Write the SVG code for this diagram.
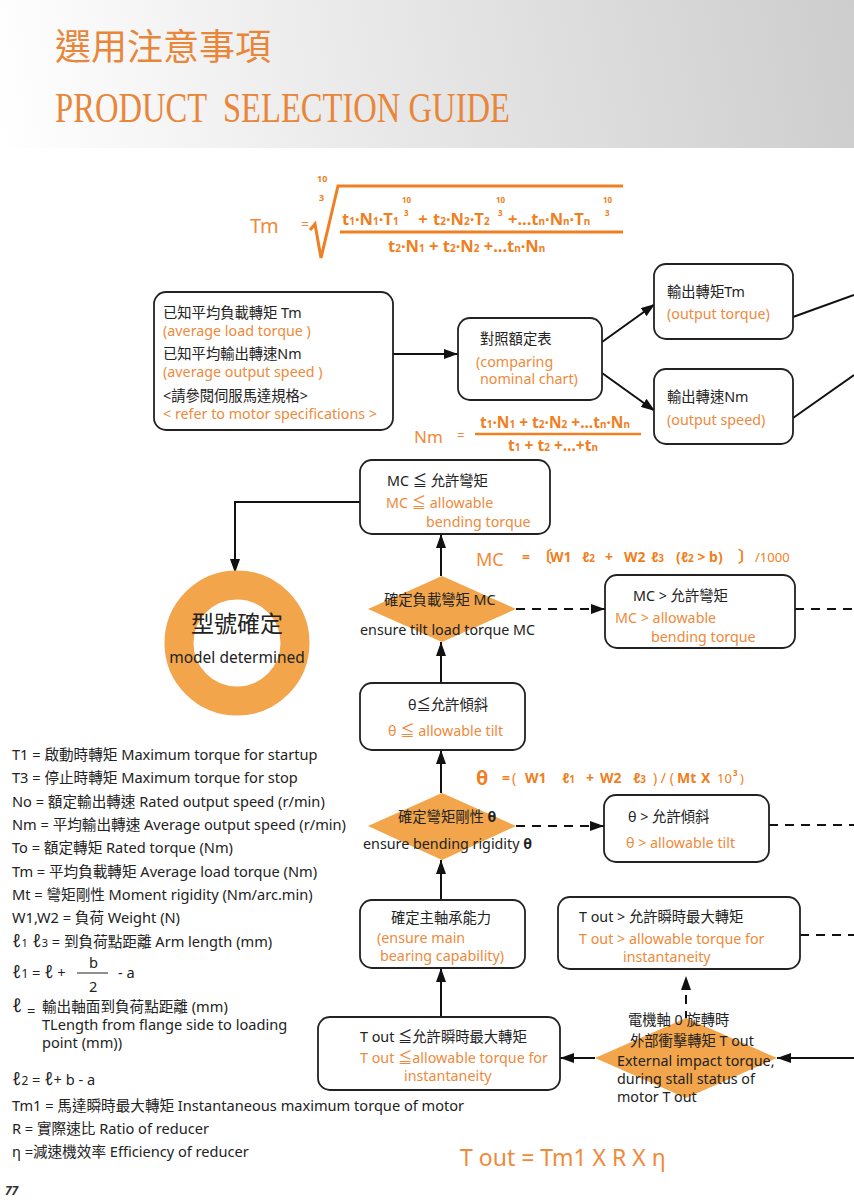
<svg xmlns="http://www.w3.org/2000/svg" width="854" height="1200" viewBox="0 0 854 1200">
<defs>
<linearGradient id="hdr" gradientUnits="userSpaceOnUse" x1="0" y1="148" x2="854" y2="0">
<stop offset="0" stop-color="#ffffff"/>
<stop offset="0.35" stop-color="#ededed"/>
<stop offset="1" stop-color="#cdcdcd"/>
</linearGradient>
<marker id="ah" viewBox="0 0 14 10" refX="14" refY="5" markerWidth="14" markerHeight="10" markerUnits="userSpaceOnUse" orient="auto"><path d="M0,0 L14,5 L0,10 z" fill="#111"/></marker>
<style>
.t{font-family:"Noto Sans","Noto Sans CJK TC",sans-serif;font-size:14.3px;fill:#222}
.lg{font-size:14.6px}
.o{fill:#EE8A3C}
.box{fill:#fff;stroke:#222;stroke-width:1.8}
.dia{fill:#F2A54A}
.c{fill:none;stroke:#111;stroke-width:2}
.d{fill:none;stroke:#111;stroke-width:2;stroke-dasharray:9 7}
.f{font-family:"Noto Sans","Noto Sans CJK TC",sans-serif;font-weight:bold;fill:#F07F22}
.fl{font-family:"Noto Sans",sans-serif;fill:#F08A3A}
</style>
</defs>

<!-- header -->
<rect x="0" y="0" width="854" height="148" fill="url(#hdr)"/>
<text x="55" y="60" font-family="Liberation Serif,'Noto Sans CJK TC',serif" font-size="36" fill="#E8873A">選用注意事項</text>
<text x="55" y="122" xml:space="preserve" font-family="Liberation Serif,serif" font-size="42" fill="#E8873A" textLength="455" lengthAdjust="spacingAndGlyphs">PRODUCT  SELECTION GUIDE</text>

<!-- top formula Tm -->
<g id="formula-tm">
<text class="fl" x="250" y="233" font-size="20">Tm</text>
<text class="fl" x="301" y="229" font-size="14">=</text>
<polyline points="310,230 315,224 321,258 338,186 623,186" fill="none" stroke="#F07F22" stroke-width="3"/>
<line x1="340" y1="232" x2="623" y2="232" stroke="#F07F22" stroke-width="3"/>
<text class="f" font-size="9"><tspan x="317" y="182">10</tspan><tspan x="319" y="201">3</tspan></text>
<text class="f" font-size="16.5" y="225"><tspan x="342">t</tspan><tspan font-size="10">1</tspan><tspan>·N</tspan><tspan font-size="10">1</tspan><tspan>·T</tspan><tspan font-size="10">1</tspan><tspan x="414"> + </tspan><tspan x="433">t</tspan><tspan font-size="10">2</tspan><tspan>·N</tspan><tspan font-size="10">2</tspan><tspan>·T</tspan><tspan font-size="10">2</tspan><tspan x="508">+...t</tspan><tspan font-size="10">n</tspan><tspan>·N</tspan><tspan font-size="10">n</tspan><tspan>·T</tspan><tspan font-size="10">n</tspan></text>
<text class="f" font-size="8" y="203"><tspan x="402">10</tspan><tspan x="496">10</tspan><tspan x="603">10</tspan></text>
<text class="f" font-size="8" y="216"><tspan x="404">3</tspan><tspan x="498">3</tspan><tspan x="605">3</tspan></text>
<text class="f" font-size="16.5" y="252"><tspan x="388">t</tspan><tspan font-size="10">2</tspan><tspan>·N</tspan><tspan font-size="10">1</tspan><tspan> + t</tspan><tspan font-size="10">2</tspan><tspan>·N</tspan><tspan font-size="10">2</tspan><tspan> +...t</tspan><tspan font-size="10">n</tspan><tspan>·N</tspan><tspan font-size="10">n</tspan></text>
</g>

<!-- Nm formula -->
<g id="formula-nm">
<text class="fl" x="414" y="443" font-size="17">Nm</text>
<text class="fl" x="457" y="440" font-size="13">=</text>
<text class="f" font-size="15.5" y="428"><tspan x="480">t</tspan><tspan font-size="10">1</tspan><tspan>·N</tspan><tspan font-size="10">1</tspan><tspan> + t</tspan><tspan font-size="10">2</tspan><tspan>·N</tspan><tspan font-size="10">2</tspan><tspan> +...t</tspan><tspan font-size="10">n</tspan><tspan>·N</tspan><tspan font-size="10">n</tspan></text>
<line x1="475" y1="434" x2="641" y2="434" stroke="#F07F22" stroke-width="2.5"/>
<text class="f" font-size="15.5" y="451"><tspan x="508">t</tspan><tspan font-size="10">1</tspan><tspan> + t</tspan><tspan font-size="10">2</tspan><tspan> +...+t</tspan><tspan font-size="10">n</tspan></text>
</g>

<!-- MC formula -->
<g id="formula-mc">
<text class="fl" x="476" y="566" font-size="18">MC</text>
<text class="f" font-size="14" y="562"><tspan x="522">=</tspan><tspan x="536" font-size="16">〔</tspan><tspan x="550">W1</tspan><tspan x="582">ℓ</tspan><tspan font-size="10">2</tspan><tspan x="605">+</tspan><tspan x="624">W2</tspan><tspan x="651">ℓ</tspan><tspan font-size="10">3</tspan><tspan x="676">(ℓ</tspan><tspan font-size="10">2</tspan><tspan> &gt; b)</tspan><tspan x="738" font-size="16">〕</tspan><tspan x="755" font-weight="normal" font-size="13">/1000</tspan></text>
</g>

<!-- theta formula -->
<g id="formula-theta">
<text class="f" x="476" y="785" font-size="20">θ</text>
<text class="f" font-size="14" y="783"><tspan x="502">=</tspan><tspan x="512" font-weight="normal">(</tspan><tspan x="525">W1</tspan><tspan x="562">ℓ</tspan><tspan font-size="10">1</tspan><tspan x="586">+</tspan><tspan x="600">W2</tspan><tspan x="633">ℓ</tspan><tspan font-size="10">3</tspan><tspan x="653" font-weight="normal">) / (</tspan><tspan x="677">Mt</tspan><tspan x="701">X</tspan><tspan x="717" font-weight="normal" font-size="13">10</tspan><tspan x="733" y="776" font-size="8">3</tspan><tspan x="740" y="783" font-weight="normal" font-size="13">)</tspan></text>
</g>

<!-- connectors -->
<g id="connectors">
<line class="c" x1="393" y1="354" x2="458" y2="354" marker-end="url(#ah)"/>
<line class="c" x1="602" y1="342" x2="655" y2="304" marker-end="url(#ah)"/>
<line class="c" x1="602" y1="373" x2="655" y2="411" marker-end="url(#ah)"/>
<line class="c" x1="793" y1="317" x2="854" y2="295"/>
<line class="c" x1="793" y1="418" x2="854" y2="375"/>
<polyline class="c" points="360,502 235,502 235,573" marker-end="url(#ah)"/>
<line class="c" x1="441" y1="576" x2="441" y2="534" marker-end="url(#ah)"/>
<line class="c" x1="441" y1="683" x2="441" y2="642" marker-end="url(#ah)"/>
<line class="d" x1="516" y1="609" x2="605" y2="609" marker-end="url(#ah)"/>
<line class="d" x1="795" y1="609" x2="854" y2="609"/>
<line class="c" x1="441" y1="793" x2="441" y2="750" marker-end="url(#ah)"/>
<line class="c" x1="441" y1="900" x2="441" y2="860" marker-end="url(#ah)"/>
<line class="d" x1="516" y1="826" x2="604" y2="826" marker-end="url(#ah)"/>
<line class="d" x1="769" y1="825" x2="854" y2="825"/>
<line class="d" x1="800" y1="935" x2="854" y2="935"/>
<line class="d" x1="686" y1="1020" x2="686" y2="976" marker-end="url(#ah)"/>
<line class="c" x1="441" y1="1017" x2="441" y2="968" marker-end="url(#ah)"/>
<line class="c" x1="854" y1="1058" x2="777" y2="1058" marker-end="url(#ah)"/>
<line class="c" x1="595" y1="1058" x2="560" y2="1058" marker-end="url(#ah)"/>
</g>

<!-- nodes -->
<g id="known-input">
<rect class="box" x="154" y="292" width="239" height="138" rx="12"/>
<text class="t" x="163" y="318">已知平均負載轉矩 Tm</text>
<text class="t o" x="163" y="336">(average load torque )</text>
<text class="t" x="163" y="359">已知平均輸出轉速Nm</text>
<text class="t o" x="163" y="377">(average output speed )</text>
<text class="t" x="163" y="401">&lt;請參閱伺服馬達規格&gt;</text>
<text class="t o" x="163" y="419">&lt; refer to motor specifications &gt;</text>
</g>

<g id="compare-chart">
<rect class="box" x="458" y="318" width="144" height="82" rx="12"/>
<text class="t" x="480" y="344">對照額定表</text>
<text class="t o" x="476" y="367">(comparing</text>
<text class="t o" x="480" y="384">nominal chart)</text>
</g>

<g id="output-torque">
<rect class="box" x="654" y="264" width="139" height="75" rx="12"/>
<text class="t" x="667" y="297">輸出轉矩Tm</text>
<text class="t o" x="667" y="319">(output torque)</text>
</g>

<g id="output-speed">
<rect class="box" x="654" y="369" width="139" height="75" rx="12"/>
<text class="t" x="667" y="402">輸出轉速Nm</text>
<text class="t o" x="667" y="425">(output speed)</text>
</g>

<g id="mc-ok">
<rect class="box" x="360" y="460" width="190" height="74" rx="12"/>
<text class="t" x="387" y="486">MC ≦ 允許彎矩</text>
<text class="t o" x="386" y="508">MC ≦ allowable</text>
<text class="t o" x="426" y="527">bending torque</text>
</g>

<g id="model-determined">
<circle cx="237" cy="643" r="58" fill="none" stroke="#F2A54A" stroke-width="29"/>
<text class="t" x="237" y="632" style="font-size:23px" text-anchor="middle">型號確定</text>
<text class="t" x="237" y="663" style="font-size:15.5px" text-anchor="middle">model determined</text>
</g>

<g id="mc-check">
<polygon class="dia" points="442,576 516,609 442,642 368,609"/>
<text class="t" x="384" y="605">確定負載彎矩 MC</text>
<text class="t" x="360" y="635">ensure tilt load torque  MC</text>
</g>

<g id="mc-ng">
<rect class="box" x="605" y="575" width="190" height="73" rx="12"/>
<text class="t" x="633" y="601">MC  &gt; 允許彎矩</text>
<text class="t o" x="615" y="623">MC  &gt; allowable</text>
<text class="t o" x="651" y="642">bending torque</text>
</g>

<g id="theta-ok">
<rect class="box" x="360" y="683" width="165" height="67" rx="12"/>
<text class="t" x="408" y="710">θ≦允許傾斜</text>
<text class="t o" x="388" y="736">θ ≦ allowable tilt</text>
</g>

<g id="theta-check">
<polygon class="dia" points="442,793 516,826 442,860 368,826"/>
<text class="t" x="398" y="822">確定彎矩剛性 <tspan font-weight="bold">θ</tspan></text>
<text class="t" x="363" y="849">ensure bending rigidity <tspan font-weight="bold">θ</tspan></text>
</g>

<g id="theta-ng">
<rect class="box" x="604" y="795" width="165" height="67" rx="12"/>
<text class="t" x="628" y="822">θ &gt; 允許傾斜</text>
<text class="t o" x="626" y="848">θ  &gt;  allowable tilt</text>
</g>

<g id="bearing">
<rect class="box" x="360" y="900" width="165" height="68" rx="12"/>
<text class="t" x="391" y="923">確定主軸承能力</text>
<text class="t o" x="377" y="943">(ensure main</text>
<text class="t o" x="380" y="961">bearing capability)</text>
</g>

<g id="tout-ng">
<rect class="box" x="558" y="897" width="242" height="72" rx="12"/>
<text class="t" x="579" y="922">T out  &gt; 允許瞬時最大轉矩</text>
<text class="t o" x="579" y="944">T out  &gt; allowable torque for</text>
<text class="t o" x="623" y="962">instantaneity</text>
</g>

<g id="tout-ok">
<rect class="box" x="318" y="1017" width="242" height="73" rx="12"/>
<text class="t" x="360" y="1042">T out ≦允許瞬時最大轉矩</text>
<text class="t o" x="360" y="1063">T out ≦allowable torque for</text>
<text class="t o" x="404" y="1081">instantaneity</text>
</g>

<g id="impact-check">
<polygon class="dia" points="686,1018 777,1058 686,1098 595,1058"/>
<text class="t" x="628" y="1025">電機軸 0 旋轉時</text>
<text class="t" x="630" y="1046">外部衝擊轉矩 T out</text>
<text class="t" x="617" y="1066">External impact torque,</text>
<text class="t" x="617" y="1084">during stall status of</text>
<text class="t" x="617" y="1102">motor T out</text>
</g>

<!-- legend -->
<g id="legend">
<text class="t lg" x="12" y="760">T1 = 啟動時轉矩 Maximum torque for startup</text>
<text class="t lg" x="12" y="783">T3 = 停止時轉矩 Maximum torque for stop</text>
<text class="t lg" x="12" y="807">No = 額定輸出轉速 Rated output speed (r/min)</text>
<text class="t lg" x="12" y="830">Nm = 平均輸出轉速 Average output speed (r/min)</text>
<text class="t lg" x="12" y="853">To = 額定轉矩 Rated torque (Nm)</text>
<text class="t lg" x="12" y="877">Tm = 平均負載轉矩 Average load torque (Nm)</text>
<text class="t lg" x="12" y="900">Mt = 彎矩剛性 Moment rigidity (Nm/arc.min)</text>
<text class="t lg" x="12" y="923">W1,W2 = 負荷 Weight (N)</text>
<text class="t lg" x="12" y="947"><tspan font-size="18">ℓ</tspan><tspan font-size="11">1</tspan><tspan font-size="18"> ℓ</tspan><tspan font-size="11">3</tspan> = 到負荷點距離 Arm length (mm)</text>
<text class="t lg" x="12" y="978"><tspan font-size="18">ℓ</tspan><tspan font-size="12">1</tspan> = <tspan font-size="18">ℓ</tspan> +</text>
<text class="t lg" x="89" y="968">b</text>
<line x1="77" y1="973" x2="108" y2="973" stroke="#222" stroke-width="1"/>
<text class="t lg" x="89" y="992">2</text>
<text class="t lg" x="118" y="978">- a</text>
<text class="t" x="12" y="1012" style="font-size:19px">ℓ</text>
<text class="t lg" x="27" y="1016">=</text>
<text class="t lg" x="42" y="1012">輸出軸面到負荷點距離 (mm)</text>
<text class="t lg" x="42" y="1030">TLength from flange side to loading</text>
<text class="t lg" x="42" y="1048">point (mm))</text>
<text class="t lg" x="12" y="1085"><tspan font-size="18">ℓ</tspan><tspan font-size="12">2</tspan> = <tspan font-size="18">ℓ</tspan>+ b - a</text>
<text class="t lg" x="12" y="1111">Tm1 = 馬達瞬時最大轉矩 Instantaneous maximum torque of motor</text>
<text class="t lg" x="12" y="1134">R = 實際速比 Ratio of reducer</text>
<text class="t lg" x="12" y="1157">η =減速機效率 Efficiency of reducer</text>
</g>

<text class="fl" x="460" y="1166" font-size="23">T out = Tm1 X R X η</text>
<text x="5" y="1195" font-family="Noto Sans,sans-serif" font-size="12" font-weight="bold" font-style="italic" fill="#333">77</text>
</svg>
